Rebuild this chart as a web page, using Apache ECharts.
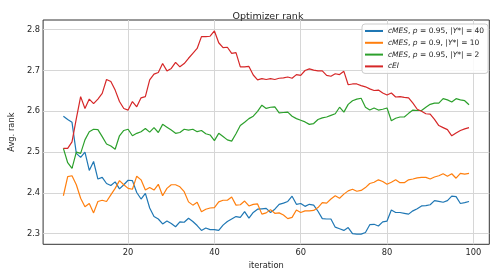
<!DOCTYPE html>
<html><head><meta charset="utf-8">
<script src="https://cdn.jsdelivr.net/npm/echarts@6/dist/echarts.min.js"></script>
<style>html,body{margin:0;padding:0;background:#fff}#c{width:500px;height:277px}</style>
</head><body><div id="c"></div>
<script>
const iterations = [];
for (let i = 5; i <= 99; i++) iterations.push(i);

const cmes40 = [2.588,2.580,2.573,2.497,2.487,2.500,2.455,2.477,2.434,2.438,2.423,2.418,2.427,2.410,2.420,2.431,2.430,2.401,2.385,2.399,2.363,2.342,2.336,2.324,2.331,2.325,2.317,2.329,2.328,2.338,2.330,2.320,2.308,2.314,2.310,2.310,2.308,2.321,2.330,2.336,2.342,2.340,2.354,2.338,2.352,
2.360,2.361,2.362,2.352,2.360,2.372,2.375,2.379,2.392,2.372,2.374,2.367,2.372,2.370,2.355,2.337,2.336,2.336,2.316,2.312,2.308,2.315,2.300,2.299,2.299,2.303,2.322,2.323,2.319,2.329,2.331,2.358,2.352,2.352,2.350,2.348,2.356,2.361,2.368,2.369,2.371,2.381,2.379,2.377,2.381,2.392,2.391,2.374,2.376,2.379];

const cmes10 = [2.393,2.440,2.442,2.420,2.387,2.366,2.374,2.351,2.379,2.382,2.379,2.395,2.411,2.430,2.420,2.411,2.409,2.441,2.432,2.407,2.413,2.407,2.421,2.393,2.411,2.420,2.420,2.415,2.403,2.378,2.370,2.377,2.354,2.360,2.363,2.364,2.378,2.382,2.382,2.390,2.370,2.371,2.380,2.368,2.372,
2.373,2.348,2.351,2.359,2.350,2.351,2.346,2.337,2.340,2.358,2.352,2.356,2.356,2.357,2.364,2.376,2.375,2.385,2.393,2.387,2.397,2.405,2.409,2.404,2.406,2.413,2.423,2.426,2.432,2.428,2.421,2.426,2.432,2.425,2.425,2.432,2.434,2.437,2.438,2.438,2.434,2.439,2.442,2.447,2.441,2.447,2.436,2.448,2.446,2.448];

const cmes2 = [2.509,2.474,2.460,2.500,2.497,2.530,2.550,2.556,2.555,2.538,2.520,2.515,2.507,2.540,2.553,2.556,2.540,2.546,2.550,2.558,2.549,2.560,2.548,2.568,2.561,2.554,2.546,2.548,2.556,2.554,2.556,2.550,2.553,2.545,2.542,2.528,2.546,2.538,2.530,2.527,2.545,2.565,2.573,2.582,2.588,
2.600,2.615,2.607,2.610,2.611,2.596,2.597,2.598,2.588,2.582,2.578,2.574,2.568,2.570,2.580,2.584,2.586,2.590,2.594,2.610,2.598,2.617,2.626,2.630,2.632,2.610,2.603,2.608,2.603,2.605,2.608,2.577,2.583,2.586,2.586,2.595,2.603,2.602,2.602,2.610,2.617,2.620,2.620,2.631,2.628,2.623,2.631,2.628,2.626,2.616];

const cei = [2.509,2.509,2.525,2.582,2.636,2.607,2.630,2.619,2.630,2.644,2.678,2.673,2.652,2.624,2.607,2.603,2.624,2.611,2.633,2.636,2.677,2.691,2.695,2.717,2.699,2.705,2.720,2.709,2.717,2.730,2.742,2.754,2.783,2.783,2.784,2.797,2.768,2.756,2.757,2.742,2.744,2.709,2.709,2.710,2.689,
2.677,2.680,2.678,2.680,2.678,2.681,2.682,2.684,2.681,2.690,2.688,2.700,2.704,2.701,2.699,2.699,2.688,2.686,2.692,2.690,2.698,2.665,2.667,2.667,2.663,2.660,2.655,2.651,2.652,2.645,2.640,2.645,2.635,2.636,2.634,2.633,2.620,2.605,2.600,2.594,2.593,2.580,2.565,2.560,2.555,2.540,2.547,2.553,2.557,2.560];

const xTicks = [20, 40, 60, 80, 100];
const yTicks = [2.3, 2.4, 2.5, 2.6, 2.7, 2.8];

const seriesNames = ['cMES40', 'cMES10', 'cMES2', 'cEI'];
const seriesData = [cmes40, cmes10, cmes2, cei];
const colors = ['#1f77b4', '#ff7f0e', '#2ca02c', '#d62728'];
const legendRich = {
  cMES40: '{i|cMES}, {i|p} = 0.95, |{i|Y}*| = 40',
  cMES10: '{i|cMES}, {i|p} = 0.9, |{i|Y}*| = 10',
  cMES2: '{i|cMES}, {i|p} = 0.95, |{i|Y}*| = 2',
  cEI: '{i|cEI}'
};

const chart = echarts.init(document.getElementById('c'), null, {renderer: 'canvas'});
const FONT = 'DejaVu Sans';
chart.setOption({
  animation: false,
  backgroundColor: '#fff',
  title: {
    text: 'Optimizer rank', left: 263, top: 7, textAlign: 'center',
    textStyle: {fontFamily: FONT, fontSize: 9.5, fontWeight: 'normal', color: '#262626'}
  },
  legend: {
    orient: 'vertical', left: 362, top: 24,
    padding: [2, 4, 2, 3], itemGap: 1.8, itemWidth: 18, itemHeight: 2,
    icon: 'rect',
    backgroundColor: 'rgba(255,255,255,0.85)', borderColor: '#cccccc', borderWidth: 1, borderRadius: 3,
    data: seriesNames,
    formatter: n => legendRich[n],
    textStyle: {fontFamily: FONT, fontSize: 7.5, color: '#262626', lineHeight: 10,
      rich: {i: {fontFamily: FONT, fontSize: 7.5, fontStyle: 'italic', color: '#262626', lineHeight: 10}}}
  },
  grid: {left: 36.7, right: 10.7, top: 20, bottom: 32.7, show: true, borderColor: '#333', borderWidth: 1, backgroundColor: 'transparent'},
  xAxis: {
    type: 'value', min: 0.3, max: 103.7,
    name: 'iteration', nameLocation: 'middle', nameGap: 15,
    nameTextStyle: {fontFamily: FONT, fontSize: 8.3, color: '#262626'},
    axisLine: {show: false},
    axisTick: {show: false, customValues: xTicks},
    axisLabel: {customValues: xTicks, fontFamily: FONT, fontSize: 8.3, color: '#262626', margin: 5},
    splitLine: {show: true, lineStyle: {color: '#d6d6d6', width: 1}}
  },
  yAxis: {
    type: 'value', min: 2.274, max: 2.8238,
    name: 'Avg. rank', nameLocation: 'middle', nameGap: 24, nameRotate: 90,
    nameTextStyle: {fontFamily: FONT, fontSize: 8.3, color: '#262626'},
    axisLine: {show: false},
    axisTick: {show: false, customValues: yTicks},
    axisLabel: {customValues: yTicks, fontFamily: FONT, fontSize: 8.3, color: '#262626', margin: 3,
      formatter: v => v.toFixed(1)},
    splitLine: {show: true, lineStyle: {color: '#d6d6d6', width: 1}}
  },
  series: seriesNames.map((n, k) => ({
    name: n, type: 'line', showSymbol: false, symbol: 'none',
    data: iterations.map((it, i) => [it, seriesData[k][i]]),
    lineStyle: {color: colors[k], width: 1.2}, itemStyle: {color: colors[k]},
    z: 2 + k
  }))
});
</script></body></html>
